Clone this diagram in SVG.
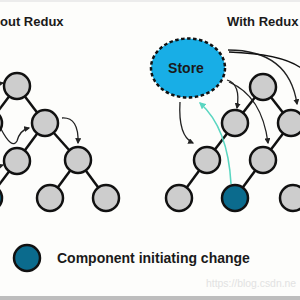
<svg xmlns="http://www.w3.org/2000/svg" width="300" height="300" viewBox="0 0 300 300">
<defs>
<style>
.n{fill:#cdcdcd;stroke:#111;stroke-width:2.5}
.b{fill:#0b6b8d;stroke:#111;stroke-width:2.5}
.e{stroke:#111;stroke-width:2.5;fill:none}
.a{stroke:#222;stroke-width:1.3;fill:none;marker-end:url(#ah)}
.t{font-family:"Liberation Sans",Arial,sans-serif;font-weight:bold;fill:#1a1a1a}
</style>
<marker id="ah" viewBox="0 0 10 10" refX="8" refY="5" markerWidth="6" markerHeight="6" markerUnits="userSpaceOnUse" orient="auto">
<path d="M0,0 L10,5 L0,10 z" fill="#222"/>
</marker>
<marker id="ht" viewBox="0 0 10 10" refX="8" refY="5" markerWidth="7" markerHeight="7" markerUnits="userSpaceOnUse" orient="auto">
<path d="M0,0 L10,5 L0,10 z" fill="#5ad6c1"/>
</marker>
</defs>
<rect width="300" height="300" fill="#fdfdfb"/>
<rect x="0" y="0" width="300" height="2" fill="#ececec"/>
<rect x="0" y="296" width="300" height="4" fill="#bdbdbd"/>

<text class="t" x="0" y="26" font-size="13">out Redux</text>
<text class="t" x="227" y="26" font-size="13">With Redux</text>

<g id="connectors">
<line class="e" x1="17" y1="86" x2="-11" y2="123"/>
<line class="e" x1="17" y1="86" x2="45" y2="123"/>
<line class="e" x1="45" y1="123" x2="17" y2="161"/>
<line class="e" x1="45" y1="123" x2="78" y2="160"/>
<line class="e" x1="17" y1="161" x2="-11" y2="198"/>
<line class="e" x1="78" y1="160" x2="50" y2="198"/>
<line class="e" x1="78" y1="160" x2="106" y2="198"/>
<line class="e" x1="263" y1="87" x2="235" y2="123"/>
<line class="e" x1="263" y1="87" x2="291" y2="123"/>
<line class="e" x1="235" y1="123" x2="207" y2="160"/>
<line class="e" x1="291" y1="123" x2="263" y2="160"/>
<line class="e" x1="207" y1="160" x2="179" y2="198"/>
<line class="e" x1="263" y1="160" x2="235" y2="198"/>
<path class="a" d="M1,129 Q12,150 17,141 Q20,130 29,128"/>
<path class="a" d="M62,118 Q79,117 78,143"/>
<path class="a" d="M-4,84 L3,83"/>
<path class="a" d="M-4,167 L3,165"/>
<path class="a" d="M228,50 Q289,50 297,104"/>
<path class="e" style="stroke-width:1.3" d="M229,52 Q282,54 301,68"/>
<path class="a" d="M227,80 Q241,84 237,108"/>
<path class="a" d="M229,82 Q262,96 268,143"/>
<path class="a" d="M180,102 Q178,136 193,143"/>
<path d="M231,184 Q228,128 200,103" fill="none" stroke="#5ad6c1" stroke-width="1.6" marker-end="url(#ht)"/>
</g>

<g id="store">
<ellipse cx="188" cy="68" rx="37" ry="29.5" fill="#18aee6" stroke="#111" stroke-width="2.5" stroke-dasharray="3.5 2.5"/>
<text class="t" x="186" y="73" font-size="14" text-anchor="middle">Store</text>
</g>

<g id="left-tree">
<circle id="l1" class="n" cx="17" cy="86" r="13"/>
<circle id="l2a" class="n" cx="-11" cy="123" r="13"/>
<circle id="l2b" class="n" cx="45" cy="123" r="13"/>
<circle id="l3a" class="n" cx="17" cy="161" r="13"/>
<circle id="l3b" class="n" cx="78" cy="160" r="13"/>
<circle id="l4a" class="b" cx="-11" cy="198" r="13"/>
<circle id="l4b" class="n" cx="50" cy="198" r="13"/>
<circle id="l4c" class="n" cx="106" cy="198" r="13"/>
</g>

<g id="right-tree">
<circle id="r1" class="n" cx="263" cy="87" r="13"/>
<circle id="r2a" class="n" cx="235" cy="123" r="13"/>
<circle id="r2b" class="n" cx="291" cy="123" r="13"/>
<circle id="r3a" class="n" cx="207" cy="160" r="13"/>
<circle id="r3b" class="n" cx="263" cy="160" r="13"/>
<circle id="r4a" class="n" cx="179" cy="198" r="13"/>
<circle id="r4b" class="b" cx="235" cy="198" r="13"/>
<circle id="r4c" class="n" cx="293" cy="198" r="13"/>
</g>

<g id="legend">
<circle class="b" cx="27" cy="258" r="13"/>
<text class="t" x="57" y="263" font-size="14">Component initiating change</text>
</g>
<text x="206" y="287" font-family="Liberation Sans,Arial,sans-serif" font-size="10.4" fill="#e2e2e2">https://blog.csdn.ne</text>
</svg>
